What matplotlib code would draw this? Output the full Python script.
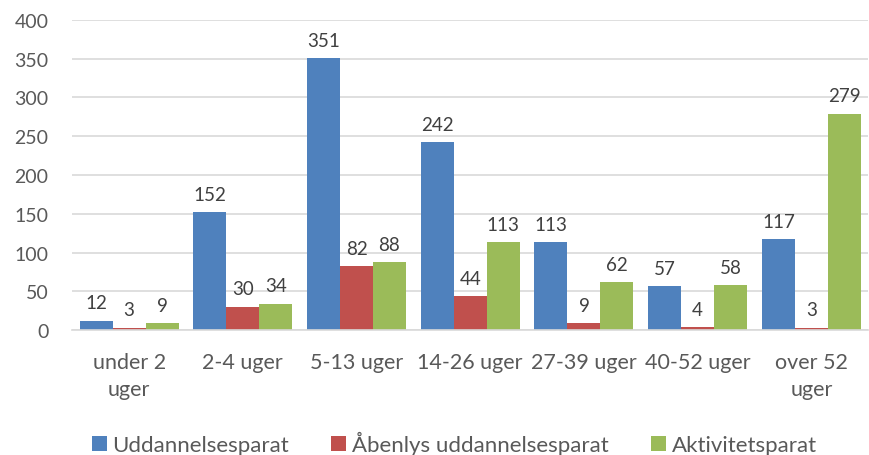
import numpy as np
import matplotlib.pyplot as plt

categories = ['under 2\nuger', '2-4 uger', '5-13 uger', '14-26 uger',
              '27-39 uger', '40-52 uger', 'over 52\nuger']
uddannelsesparat = [12, 152, 351, 242, 113, 57, 117]
aabenlys = [3, 30, 82, 44, 9, 4, 3]
aktivitetsparat = [9, 34, 88, 113, 62, 58, 279]
series_names = ['Uddannelsesparat', 'Åbenlys uddannelsesparat', 'Aktivitetsparat']
colors = ['#4F81BD', '#C0504D', '#9BBB59']

plt.rcParams['font.family'] = ['Lato', 'DejaVu Sans']

fig = plt.figure(figsize=(8.7, 4.56), dpi=100)
ax = fig.add_axes([0.083, 0.274, 0.915, 0.680])

x = np.arange(len(categories))
w = 0.29
for i, (vals, name, col) in enumerate(zip([uddannelsesparat, aabenlys, aktivitetsparat],
                                          series_names, colors)):
    bars = ax.bar(x + (i - 1) * w, vals, w, color=col, label=name, zorder=2)
    for b, v in zip(bars, vals):
        ax.text(b.get_x() + b.get_width() / 2, v + 12, str(v), ha='center', va='bottom',
                fontsize=13.5, color='#404040')

ax.set_ylim(0, 400)
ax.set_xlim(-0.5, len(categories) - 0.5)
ax.set_yticks(range(0, 401, 50))
ax.yaxis.grid(True, color='#D9D9D9', linewidth=1.2, zorder=0)
ax.set_axisbelow(True)
for s in ['top', 'right', 'left']:
    ax.spines[s].set_visible(False)
ax.spines['bottom'].set_color('#D9D9D9')
ax.spines['bottom'].set_linewidth(1.2)
ax.tick_params(axis='y', length=0, pad=17, labelsize=14, labelcolor='#595959')
ax.tick_params(axis='x', length=0, pad=16, labelsize=15.5, labelcolor='#595959')
ax.set_xticks(x)
ax.set_xticklabels(categories, linespacing=1.45)

fig.legend(loc='center', bbox_to_anchor=(0.522, 0.026), ncol=3, frameon=False,
           fontsize=16, handlelength=0.68, handleheight=0.68, handletextpad=0.25,
           columnspacing=1.9, labelcolor='#595959', borderpad=0)

fig.savefig('out.png', dpi=100)
